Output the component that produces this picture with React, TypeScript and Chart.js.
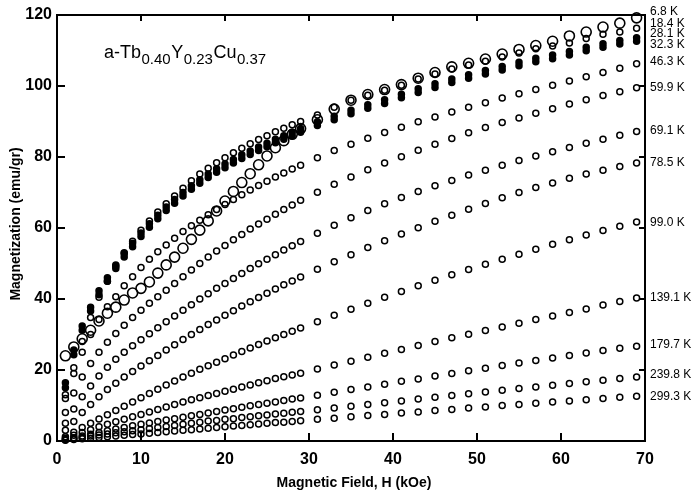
import React, { useEffect, useRef } from "react";
import { Chart, registerables } from "chart.js";

Chart.register(...registerables);

// Magnetic field H (kOe) at which magnetization was measured
const fieldH = [
  1, 2, 3, 4, 5, 6, 7, 8, 9, 10, 11, 12, 13, 14, 15, 16, 17, 18, 19, 20, 21, 22, 23, 24, 25, 26, 27, 28, 29,
  31, 33, 35, 37, 39, 41, 43, 45, 47, 49, 51, 53, 55, 57, 59, 61, 63, 65, 67, 69,
];

// Magnetization (emu/gr) for each temperature
const m068 = [24, 26.5, 28.8, 31.2, 33.8, 36, 37.7, 39.7, 41.7, 43, 44.8, 47.3, 49.6, 51.8, 54.3, 56.8, 59.4, 62, 64.8, 67.6, 70.3, 72.8, 75.3, 77.8, 80.3, 82.6, 84.6, 86.4, 88,
  90.5, 93.5, 96, 97.6, 99, 100.4, 102.2, 103.8, 105.4, 106.4, 107.6, 109, 110.3, 111.4, 112.6, 114.1, 115.2, 116.6, 117.7, 119.2];
const m184 = [13, 20.6, 28, 34.8, 40.5, 45, 49.2, 53, 56.3, 59.4, 62, 64.5, 66.8, 69, 71.2, 73.3, 75.2, 76.8, 78.4, 79.8, 81.2, 82.5, 83.7, 84.9, 86, 87.1, 88.1, 89.1, 90,
  91.8, 94, 96, 97.4, 98.8, 100.2, 102, 103.4, 104.8, 105.9, 107, 108.2, 109.3, 110.5, 111.3, 112.1, 113.4, 114.6, 115.2, 116.3];
const m281 = [16.4, 25.6, 32.4, 37.7, 42.3, 46, 49.6, 52.8, 55.7, 58.6, 61.2, 63.6, 65.9, 68, 70, 71.9, 73.6, 75.2, 76.7, 78, 79.3, 80.6, 81.7, 82.8, 83.9, 85, 86, 87, 88,
  89.9, 91.5, 93.2, 94.7, 96.1, 97.7, 99.2, 100.6, 102, 103.2, 104.4, 105.5, 106.7, 107.8, 108.7, 109.7, 110.9, 111.9, 112.8, 113.6];
const m323 = [15, 24.3, 31.2, 36.6, 41.2, 45, 48.6, 51.8, 54.7, 57.6, 60.2, 62.6, 64.9, 67, 69, 70.9, 72.6, 74.2, 75.7, 77, 78.3, 79.6, 80.7, 81.8, 82.9, 84, 85, 86, 87,
  88.9, 90.5, 92.2, 93.7, 95.1, 96.7, 98.2, 99.6, 101, 102.2, 103.4, 104.5, 105.7, 106.8, 107.7, 108.7, 109.9, 110.9, 111.8, 112.6];
const m463 = [12, 19, 25, 30, 34.2, 37.8, 40.6, 43.7, 46.3, 48.9, 51.2, 53.3, 55.2, 57.1, 59, 60.6, 62.2, 63.7, 65.2, 66.6, 68, 69.4, 70.7, 72, 73.2, 74.4, 75.5, 76.6, 77.7,
  79.8, 81.8, 83.6, 85.3, 86.9, 88.4, 89.9, 91.3, 92.7, 94, 95.3, 96.6, 97.8, 99, 100.2, 101.4, 102.6, 103.8, 105, 106.3];
const m599 = [8, 13.5, 18, 21.8, 25, 27.8, 30.3, 32.6, 34.8, 36.8, 38.8, 40.6, 42.5, 44.4, 46.3, 48.2, 50, 51.8, 53.5, 55.1, 56.7, 58.2, 59.7, 61.1, 62.5, 63.9, 65.2, 66.5, 67.8,
  70.1, 72.3, 74.4, 76.4, 78.3, 80.1, 81.9, 83.6, 85.2, 86.8, 88.3, 89.7, 91, 92.3, 93.6, 94.9, 96.1, 97.3, 98.4, 99.5];
const m691 = [5, 9, 12.5, 15.5, 18.3, 20.8, 23, 25, 26.8, 28.5, 30.2, 31.9, 33.6, 35.2, 36.8, 38.4, 40, 41.5, 43, 44.4, 45.8, 47.2, 48.6, 49.9, 51.2, 52.5, 53.8, 55, 56.2,
  58.5, 60.8, 62.9, 64.9, 66.8, 68.6, 70.3, 71.9, 73.4, 74.9, 76.3, 77.7, 79, 80.3, 81.5, 82.7, 83.9, 85, 86.1, 87.2];
const m785 = [3, 5.5, 8, 10.3, 12.5, 14.5, 16.3, 18, 19.6, 21.1, 22.6, 24.1, 25.6, 27.1, 28.6, 30, 31.4, 32.8, 34.1, 35.4, 36.7, 38, 39.2, 40.4, 41.6, 42.8, 44, 45.1, 46.2,
  48.4, 50.5, 52.5, 54.5, 56.4, 58.3, 60.1, 61.9, 63.6, 65.3, 66.9, 68.5, 70, 71.4, 72.7, 74, 75.2, 76.3, 77.3, 78.3];
const m990 = [1.2, 2.5, 3.8, 5, 6.2, 7.4, 8.6, 9.8, 11, 12.2, 13.4, 14.6, 15.8, 16.9, 18, 19.1, 20.2, 21.2, 22.2, 23.2, 24.2, 25.2, 26.2, 27.2, 28.2, 29.1, 30, 30.9, 31.8,
  33.6, 35.4, 37.1, 38.8, 40.5, 42.1, 43.7, 45.3, 46.8, 48.3, 49.8, 51.2, 52.6, 54, 55.4, 56.7, 58, 59.3, 60.5, 61.7];
const m1391 = [0.8, 1.6, 2.4, 3.2, 4, 4.7, 5.4, 6.1, 6.8, 7.5, 8.2, 8.9, 9.6, 10.3, 11, 11.6, 12.2, 12.8, 13.4, 14, 14.6, 15.2, 15.8, 16.4, 17, 17.6, 18.1, 18.6, 19.1,
  20.3, 21.4, 22.5, 23.6, 24.7, 25.8, 26.9, 28, 29.1, 30.1, 31.1, 32.1, 33.2, 34.2, 35.2, 36.2, 37.2, 38.3, 39.3, 40.3];
const m1797 = [0.5, 0.9, 1.4, 1.9, 2.4, 2.9, 3.4, 3.8, 4.3, 4.7, 5.1, 5.5, 5.9, 6.3, 6.7, 7.1, 7.5, 7.9, 8.3, 8.7, 9.1, 9.5, 9.9, 10.3, 10.6, 11, 11.4, 11.8, 12.1,
  12.9, 13.7, 14.5, 15.2, 16, 16.8, 17.5, 18.3, 19, 19.8, 20.5, 21.3, 22, 22.7, 23.4, 24.1, 24.8, 25.5, 26.1, 26.7];
const m2398 = [0.35, 0.7, 1.05, 1.4, 1.7, 2, 2.3, 2.6, 2.9, 3.2, 3.5, 3.8, 4.1, 4.4, 4.7, 5, 5.3, 5.6, 5.8, 6.1, 6.3, 6.6, 6.8, 7.1, 7.3, 7.6, 7.8, 8.1, 8.3,
  8.8, 9.3, 9.8, 10.3, 10.8, 11.3, 11.8, 12.3, 12.8, 13.3, 13.8, 14.3, 14.8, 15.2, 15.7, 16.2, 16.7, 17.1, 17.6, 18];
const m2993 = [0.2, 0.4, 0.6, 0.8, 1, 1.2, 1.4, 1.6, 1.8, 2, 2.2, 2.4, 2.6, 2.8, 3, 3.2, 3.4, 3.6, 3.8, 4, 4.2, 4.4, 4.6, 4.8, 5, 5.2, 5.3, 5.5, 5.7,
  6.1, 6.4, 6.8, 7.2, 7.5, 7.9, 8.2, 8.6, 8.9, 9.3, 9.6, 10, 10.3, 10.6, 11, 11.3, 11.6, 12, 12.3, 12.6];

const seriesLabels = ["6.8 K", "18.4 K", "28.1 K", "32.3 K", "46.3 K", "59.9 K", "69.1 K", "78.5 K", "99.0 K", "139.1 K", "179.7 K", "239.8 K", "299.3 K"];
const seriesValues = [m068, m184, m281, m323, m463, m599, m691, m785, m990, m1391, m1797, m2398, m2993];
// marker kind per series: "big" open, "open" small, "filled"
const seriesMarker = ["big", "open", "filled", "filled", "open", "open", "open", "open", "open", "open", "open", "open", "open"];
// vertical level (emu/gr) at which each temperature label is written at the right edge
const labelLevels = [120.8, 117.6, 114.8, 111.6, 106.8, 99.4, 87.3, 78.3, 61.4, 40.3, 27, 18.6, 12.4];

const xTicks = [0, 10, 20, 30, 40, 50, 60, 70];
const yTicks = [0, 20, 40, 60, 80, 100, 120];

const FONT = "'Liberation Sans', Arial, Helvetica, sans-serif";

const framePlugin = {
  id: "frame",
  afterDraw(chart: any) {
    const { ctx, chartArea } = chart;
    const { left, right, top, bottom } = chartArea;
    const xs = chart.scales.x;
    const ys = chart.scales.y;
    ctx.save();
    ctx.strokeStyle = "#000";
    ctx.lineWidth = 2;
    ctx.beginPath();
    ctx.rect(left, top, right - left, bottom - top);
    ctx.stroke();
    ctx.beginPath();
    xTicks.forEach((v) => {
      const px = xs.getPixelForValue(v);
      ctx.moveTo(px, bottom);
      ctx.lineTo(px, bottom - 8);
      ctx.moveTo(px, top);
      ctx.lineTo(px, top + 6);
    });
    yTicks.forEach((v) => {
      const py = ys.getPixelForValue(v);
      ctx.moveTo(left, py);
      ctx.lineTo(left + 8, py);
      ctx.moveTo(right, py);
      ctx.lineTo(right - 6, py);
    });
    ctx.stroke();

    // Axis titles
    ctx.fillStyle = "#000";
    ctx.font = `bold 14px ${FONT}`;
    ctx.textAlign = "center";
    ctx.textBaseline = "middle";
    ctx.fillText("Magnetic Field, H (kOe)", 354, 483);
    ctx.save();
    ctx.translate(16, 224);
    ctx.rotate(-Math.PI / 2);
    ctx.font = `bold 14px ${FONT}`;
    ctx.fillText("Magnetization (emu/gr)", 0, 0);
    ctx.restore();

    // Compound annotation with subscripts
    ctx.textAlign = "left";
    ctx.textBaseline = "alphabetic";
    const parts: [string, boolean][] = [
      ["a-Tb", false], ["0.40", true], ["Y", false], ["0.23", true], ["Cu", false], ["0.37", true],
    ];
    let cx = 104;
    parts.forEach(([t, sub]) => {
      ctx.font = sub ? `15px ${FONT}` : `18px ${FONT}`;
      ctx.fillText(t, cx, sub ? 64 : 58);
      cx += ctx.measureText(t).width + 0.5;
    });

    // Temperature labels
    ctx.font = `12px ${FONT}`;
    ctx.textBaseline = "middle";
    seriesLabels.forEach((lab, i) => {
      ctx.fillText(lab, right + 5, ys.getPixelForValue(labelLevels[i]));
    });
    ctx.restore();
  },
};

export default function App() {
  const ref = useRef<HTMLCanvasElement>(null);
  useEffect(() => {
    document.body.style.margin = "0";
    const canvas = ref.current;
    if (!canvas) return;
    const datasets = seriesValues.map((vals, i) => {
      const kind = seriesMarker[i];
      return {
        label: seriesLabels[i],
        data: vals.map((m, j) => ({ x: fieldH[j], y: m })),
        showLine: false,
        clip: false as any,
        pointStyle: "circle" as const,
        pointRadius: kind === "big" ? 5 : 3,
        pointBorderWidth: kind === "big" ? 1.6 : 1.5,
        pointBorderColor: "#000",
        pointBackgroundColor: kind === "filled" ? "#000" : "rgba(0,0,0,0)",
      };
    });
    const chart = new Chart(canvas, {
      type: "scatter",
      data: { datasets },
      options: {
        responsive: false,
        animation: false,
        events: [],
        layout: { padding: { left: 0, right: 53, top: 15, bottom: 0 } },
        plugins: { legend: { display: false }, tooltip: { enabled: false } },
        scales: {
          x: {
            type: "linear",
            min: 0,
            max: 70,
            afterFit: (s: any) => { s.height = 58; },
            afterBuildTicks: (s: any) => { s.ticks = xTicks.map((v) => ({ value: v })); },
            ticks: { padding: 9, color: "#000", font: { family: FONT, size: 16, weight: "bold" } },
            grid: { display: false, drawTicks: false },
            border: { display: false },
          },
          y: {
            type: "linear",
            min: 0,
            max: 120,
            afterFit: (s: any) => { s.width = 57; },
            afterBuildTicks: (s: any) => { s.ticks = yTicks.map((v) => ({ value: v })); },
            ticks: { padding: 5, color: "#000", font: { family: FONT, size: 16, weight: "bold" } },
            grid: { display: false, drawTicks: false },
            border: { display: false },
          },
        },
      },
      plugins: [framePlugin],
    });
    return () => chart.destroy();
  }, []);
  return <canvas ref={ref} width={698} height={499} style={{ display: "block" }} />;
}
